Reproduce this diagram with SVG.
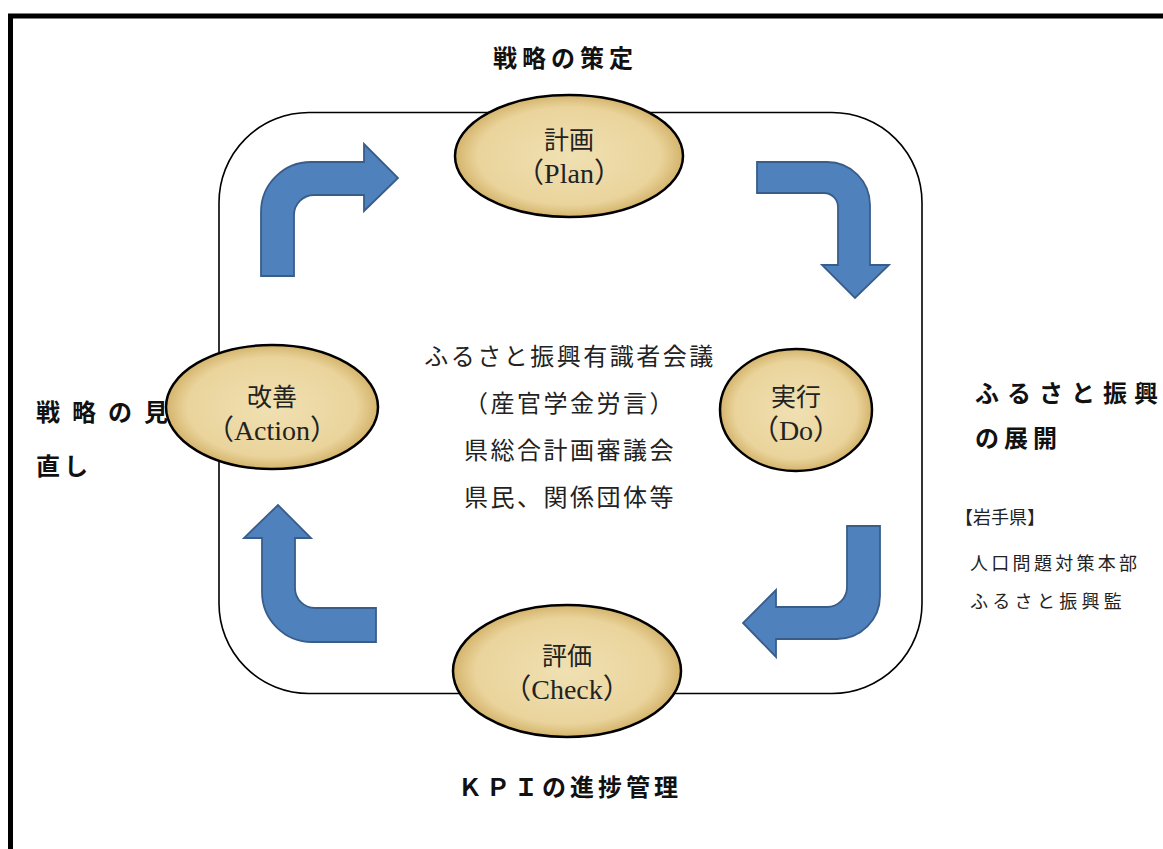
<svg xmlns="http://www.w3.org/2000/svg" width="1163" height="849" viewBox="0 0 1163 849">
  <style>
    .frame { fill: none; stroke: #000; stroke-width: 5; }
    .board { fill: #fff; stroke: #000; stroke-width: 1.6; }
    .node { fill: url(#parch); stroke: #000; stroke-width: 2.5; }
    .arrow { fill: #4F81BD; stroke: #385D8A; stroke-width: 1.8; stroke-linejoin: miter; }
    .lbl { font-family: "Liberation Serif", "Noto Sans CJK JP", serif; font-size: 25px; fill: #222; text-anchor: middle; }
    .lat { font-size: 28px; }
    .mid { font-family: "Liberation Serif", "Noto Sans CJK JP", serif; font-size: 24px; fill: #222; text-anchor: middle; letter-spacing: 2.5px; }
    .bold { font-family: "Liberation Sans", "Noto Sans CJK JP", sans-serif; font-size: 24px; font-weight: bold; fill: #111; }
    .small { font-family: "Liberation Serif", "Noto Sans CJK JP", serif; font-size: 18px; fill: #222; }
  </style>
  <defs>
    <radialGradient id="parch" cx="50%" cy="50%" r="50%">
      <stop offset="0%" stop-color="#F0E0B2"/>
      <stop offset="80%" stop-color="#EAD49C"/>
      <stop offset="100%" stop-color="#D4B46C"/>
    </radialGradient>
  </defs>
  <rect width="1163" height="849" fill="#fff"/>
  <rect class="frame" x="10.5" y="16" width="1200" height="900"/>
  <rect class="board" x="219" y="112.5" width="703" height="581" rx="90" ry="90"/>

  <g id="connectors">
    <path class="arrow" d="M261,276 L261,212 A50,50 0 0 1 311,162 L364,162 L364,144 L398,178 L364,211 L364,195 L314,195 A20,20 0 0 0 294,215 L294,276 Z"/>
    <path class="arrow" d="M757,162 L827,162 A43,43 0 0 1 870,205 L870,265 L889,265 L855,298 L822,265 L838,265 L838,207 A14,14 0 0 0 824,193 L757,193 Z"/>
    <path class="arrow" d="M847,526 L880,526 L880,596 A43,43 0 0 1 837,639 L776,639 L776,657 L743,623 L776,590 L776,607 L827,607 A20,20 0 0 0 847,587 Z"/>
    <path class="arrow" d="M376,608 L376,642 L312,642 A50,50 0 0 1 262,592 L262,538 L244,538 L278,505 L311,538 L295,538 L295,588 A20,20 0 0 0 315,608 Z"/>
  </g>

  <g id="plan">
    <ellipse class="node" cx="569" cy="156" rx="114" ry="61"/>
    <text class="lbl" x="569" y="149">計画</text>
    <text class="lbl lat" x="569" y="183">（Plan）</text>
  </g>
  <g id="do">
    <ellipse class="node" cx="796" cy="410" rx="76" ry="61"/>
    <text class="lbl" x="796" y="406">実行</text>
    <text class="lbl lat" x="796" y="440">（Do）</text>
  </g>
  <g id="check">
    <ellipse class="node" cx="567" cy="671" rx="114" ry="66"/>
    <text class="lbl" x="567" y="665">評価</text>
    <text class="lbl lat" x="567" y="699">（Check）</text>
  </g>
  <g id="action">
    <ellipse class="node" cx="272" cy="407" rx="106" ry="62"/>
    <text class="lbl" x="272" y="406">改善</text>
    <text class="lbl lat" x="272" y="440">（Action）</text>
  </g>

  <g id="center">
    <text class="mid" x="570" y="365">ふるさと振興有識者会議</text>
    <text class="mid" x="570" y="412">（産官学金労言）</text>
    <text class="mid" x="570" y="459">県総合計画審議会</text>
    <text class="mid" x="570" y="506">県民、関係団体等</text>
  </g>

  <g id="labels">
    <text class="bold" x="493" y="67" letter-spacing="5">戦略の策定</text>
    <text class="bold" x="458" y="796" letter-spacing="4">ＫＰＩの進捗管理</text>
    <text class="bold" x="36 72 108 144" y="421">戦略の見</text>
    <text class="bold" x="36" y="475" letter-spacing="4">直し</text>
    <text class="bold" x="975 1007 1039 1071 1103 1134" y="402">ふるさと振興</text>
    <text class="bold" x="975" y="447" letter-spacing="5">の展開</text>
    <text class="small" x="955" y="524" font-size="17">【岩手県】</text>
    <text class="small" x="970" y="570" letter-spacing="3.3">人口問題対策本部</text>
    <text class="small" x="970" y="608" letter-spacing="4.3">ふるさと振興監</text>
  </g>
</svg>
